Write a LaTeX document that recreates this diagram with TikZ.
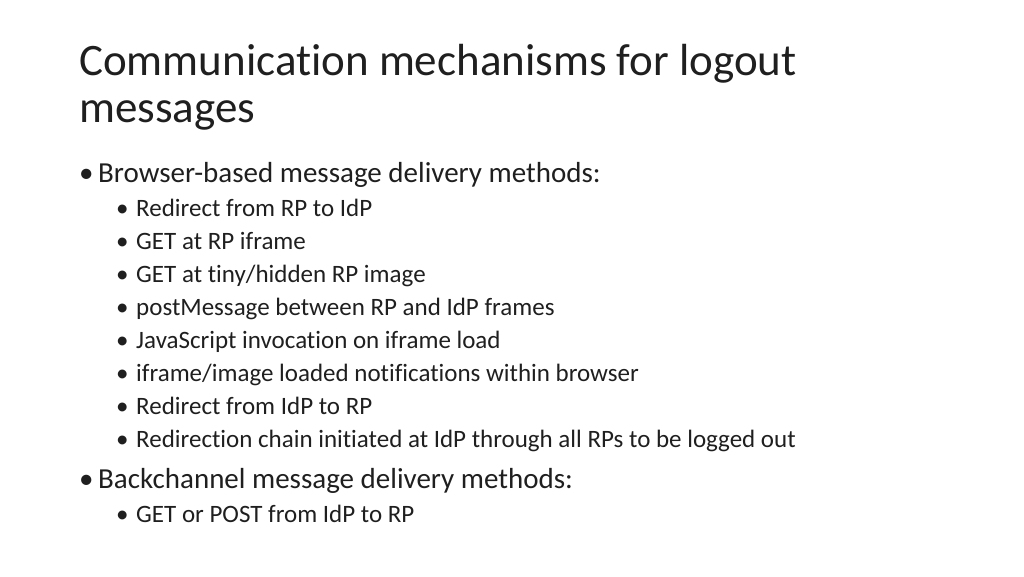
\documentclass[tikz,border=0pt]{standalone}
\usepackage{fontspec}
\setmainfont{Carlito}[RawFeature={-liga;-dlig}]
\begin{document}
\begin{tikzpicture}[x=1pt,y=-1pt,
  t/.style={anchor=base west,inner sep=0pt,text=black!88},
  ttl/.style={t,font=\fontsize{45}{52}\selectfont},
  lone/.style={t,font=\fontsize{29}{33}\selectfont},
  ltwo/.style={t,font=\fontsize{25}{29}\selectfont}]
\useasboundingbox (0,0) rectangle (1024,576);
\node[ttl] (t1) at (79,75) {Communication mechanisms for logout};
\node[ttl] (t2) at (79,122) {messages};
\node[lone] (b1d) at (79,182) {•};
\node[lone] (b1) at (98,182) {Browser-based message delivery methods:};
\foreach \y/\s [count=\i] in {216/{Redirect from RP to IdP}, 249/{GET at RP iframe}, 282/{GET at tiny{/}hidden RP image}, 315/{postMessage between RP and IdP frames}, 348/{JavaScript invocation on iframe load}, 381/{iframe{/}image loaded notifications within browser}, 414/{Redirect from IdP to RP}, 447/{Redirection chain initiated at IdP through all RPs to be logged out}}{
  \node[ltwo] (s\i d) at (116,\y) {•};
  \node[ltwo] (s\i) at (136,\y) {\s};
}
\node[lone] (b2d) at (79,488) {•};
\node[lone] (b2) at (98,488) {Backchannel message delivery methods:};
\node[ltwo] (c1d) at (116,522) {•};
\node[ltwo] (c1) at (136,522) {GET or POST from IdP to RP};
\end{tikzpicture}
\end{document}
